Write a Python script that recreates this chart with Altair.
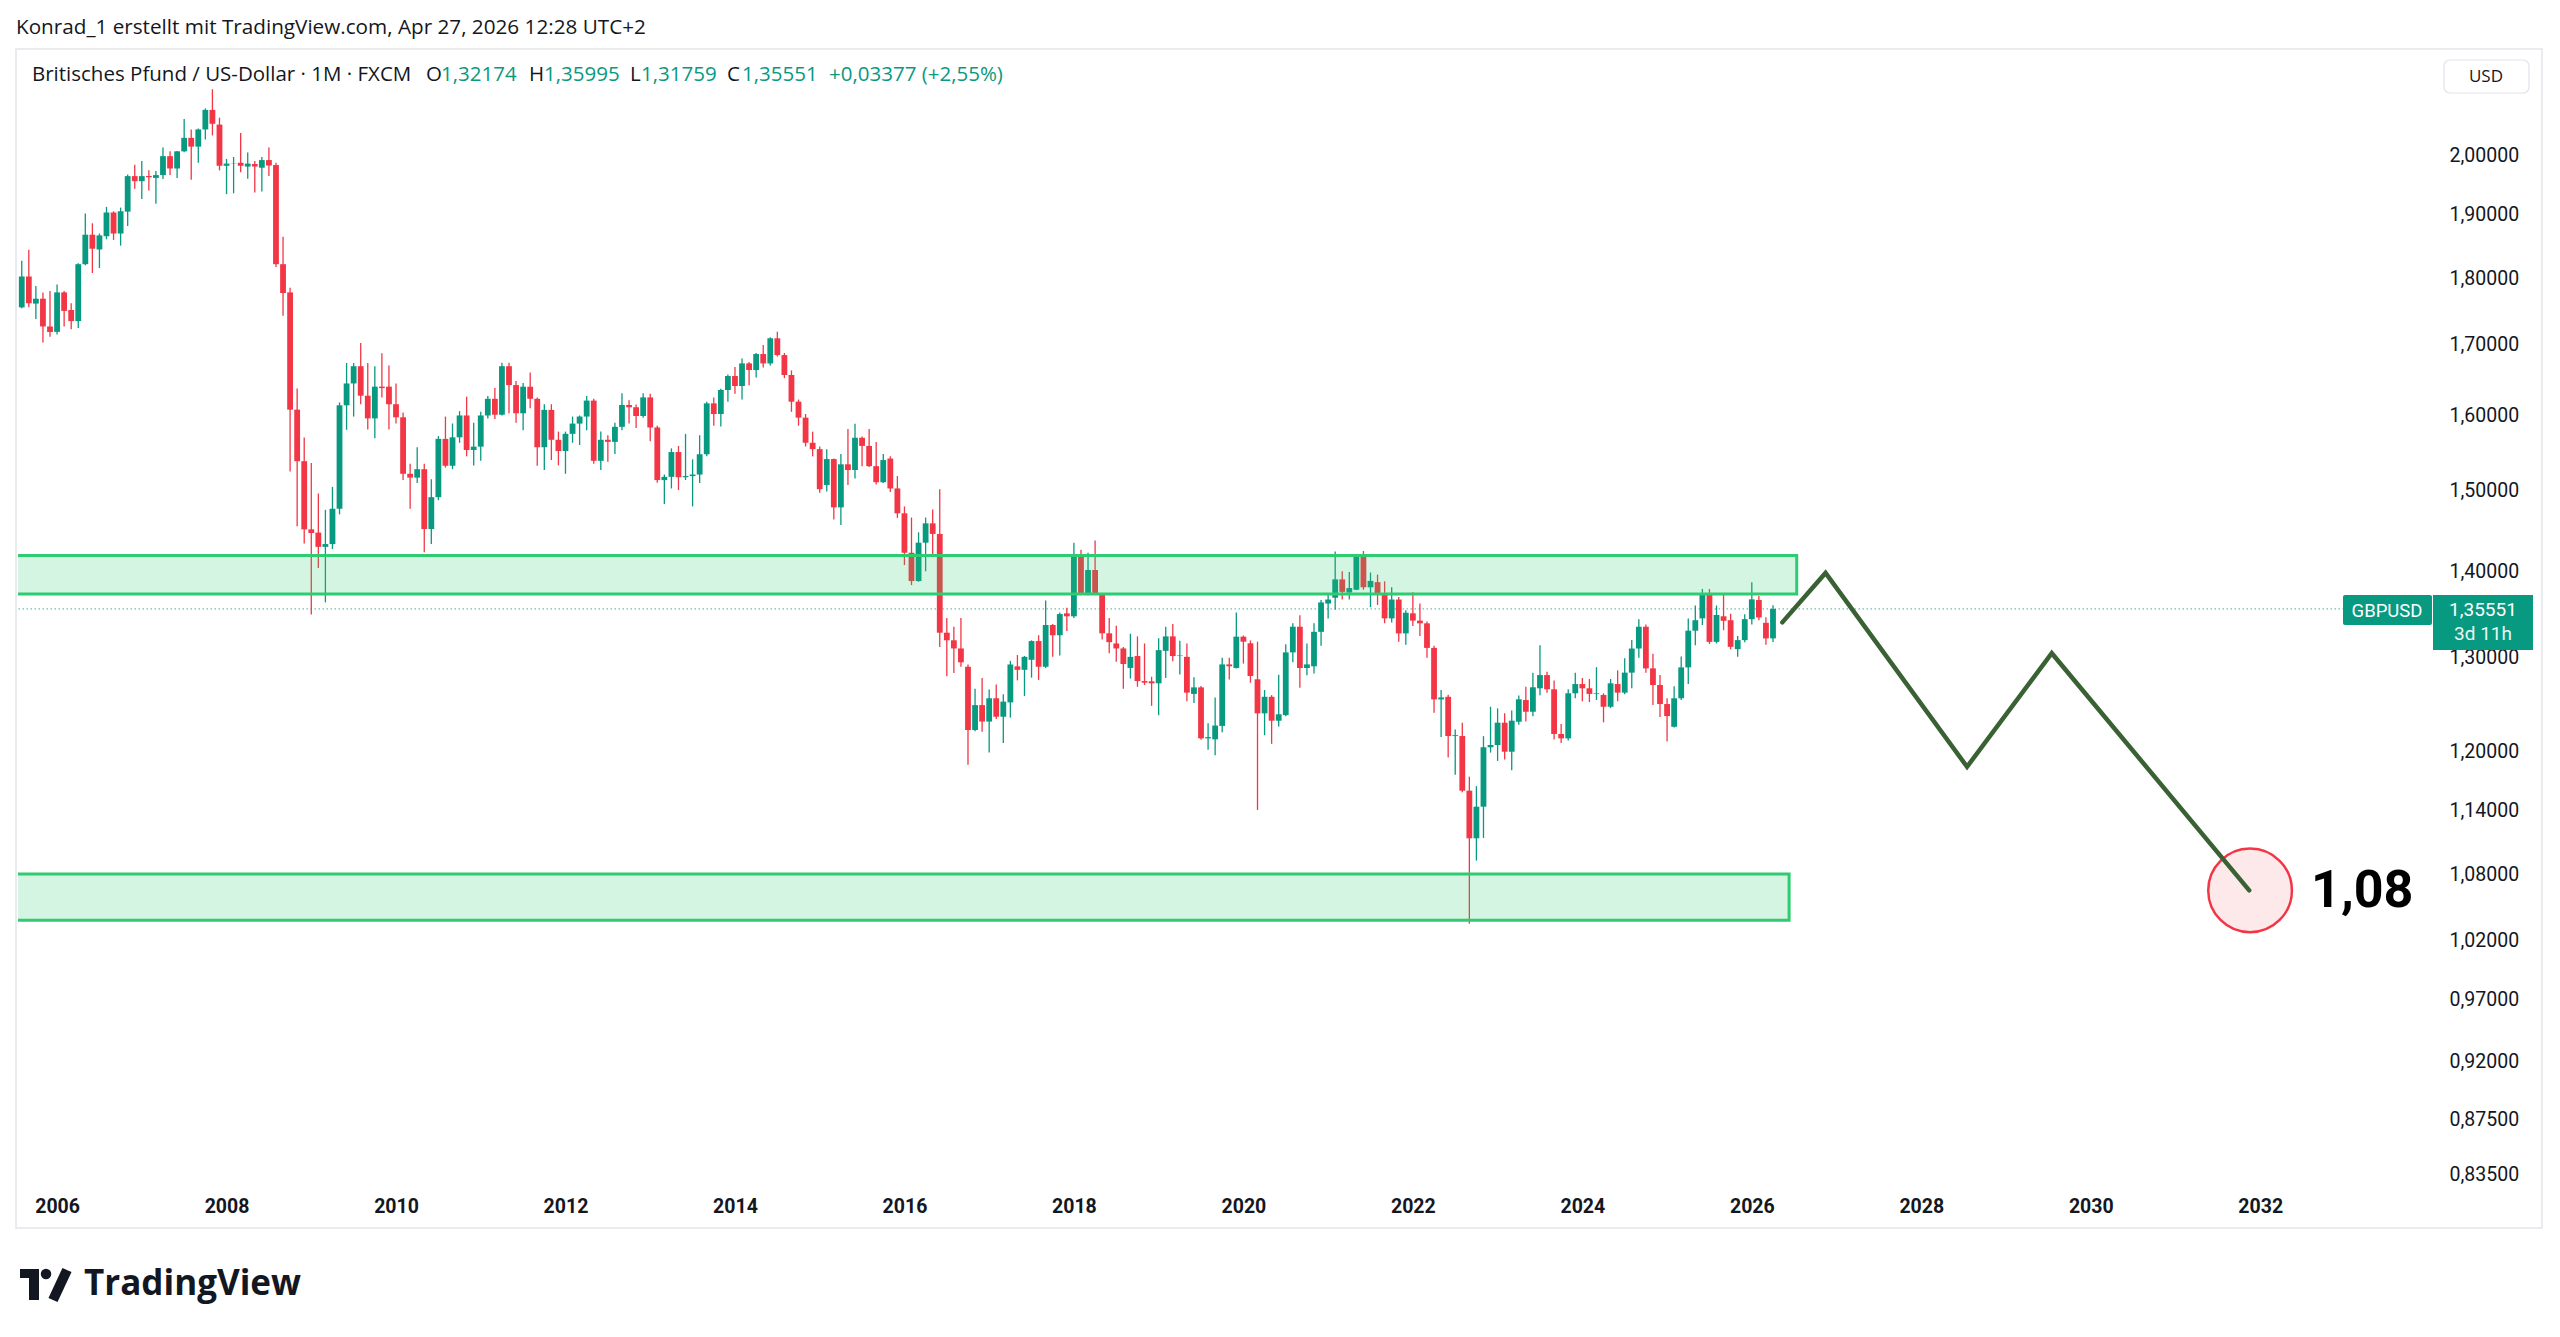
import altair as alt
import pandas as pd

GREEN = "#089981"
RED = "#f23645"
INK = "#131722"
FONT = "Roboto"
HFONT = "Open Sans"

# ---------------- data: GBPUSD monthly candles (FXCM), Aug 2005 - Apr 2026 ----------------
first_year = 2005
first_month = 8

opens = [
    1.7553, 1.8024, 1.7610, 1.7684, 1.7268,
    1.7188, 1.7780, 1.7514, 1.7348, 1.8215, 1.8681, 1.8446, 1.8657, 1.9040, 1.8700, 1.9054, 1.9643,
    1.9558, 1.9643, 1.9613, 1.9660, 1.9982, 1.9772, 2.0065, 2.0298, 2.0146, 2.0445, 2.0790, 2.0530,
    1.9818, 1.9855, 1.9869, 1.9805, 1.9849, 1.9785, 1.9915, 1.9830, 1.8215, 1.7780, 1.6080, 1.5385,
    1.4512, 1.4472, 1.4296, 1.4330, 1.4771, 1.6140, 1.6445, 1.6690, 1.6273, 1.5960, 1.6400, 1.6400,
    1.6155, 1.5975, 1.5220, 1.5170, 1.5280, 1.4516, 1.4918, 1.5682, 1.5325, 1.5703, 1.6000, 1.5533,
    1.5578, 1.6000, 1.6230, 1.6010, 1.6690, 1.6422, 1.6030, 1.6400, 1.6230, 1.5570, 1.6077, 1.5670,
    1.5520, 1.5750, 1.5889, 1.5985, 1.6205, 1.5390, 1.5670, 1.5642, 1.5845, 1.6144, 1.6113, 1.5993,
    1.6250, 1.5836, 1.5138, 1.5180, 1.5506, 1.5175, 1.5190, 1.5210, 1.5477, 1.6167, 1.6020, 1.6353,
    1.6550, 1.6409, 1.6730, 1.6636, 1.6865, 1.6730, 1.7094, 1.6850, 1.6565, 1.6190, 1.5970, 1.5630,
    1.5545, 1.5075, 1.5413, 1.4788, 1.5344, 1.5269, 1.5697, 1.5588, 1.5320, 1.5110, 1.5420, 1.5030,
    1.4713, 1.4224, 1.3883, 1.4347, 1.4587, 1.4455, 1.3282, 1.3196, 1.3104, 1.2900, 1.2219, 1.2483,
    1.2308, 1.2556, 1.2359, 1.2512, 1.2904, 1.2866, 1.2977, 1.3187, 1.2900, 1.3370, 1.3253, 1.3504,
    1.3470, 1.4175, 1.3737, 1.4015, 1.3737, 1.3275, 1.3160, 1.3104, 1.2887, 1.3019, 1.2743, 1.2740,
    1.2718, 1.3077, 1.3240, 1.3019, 1.3010, 1.2603, 1.2674, 1.2132, 1.2122, 1.2262, 1.2926, 1.2886,
    1.3237, 1.3162, 1.2762, 1.2395, 1.2572, 1.2317, 1.2376, 1.3060, 1.3350, 1.2886, 1.2905, 1.3292,
    1.3618, 1.3686, 1.3903, 1.3747, 1.3780, 1.4184, 1.3809, 1.3870, 1.3727, 1.3446, 1.3665, 1.3274,
    1.3504, 1.3420, 1.3389, 1.3110, 1.2544, 1.2572, 1.2156, 1.2156, 1.1600, 1.1136, 1.1442, 1.2040,
    1.2063, 1.2296, 1.1994, 1.2306, 1.2537, 1.2412, 1.2664, 1.2808, 1.2653, 1.2178, 1.2132, 1.2610,
    1.2710, 1.2664, 1.2603, 1.2592, 1.2465, 1.2710, 1.2617, 1.2835, 1.3103, 1.3350, 1.2882, 1.2700,
    1.2494, 1.2253, 1.2556, 1.2893, 1.3305, 1.3446, 1.3722, 1.3178, 1.3470, 1.3425, 1.3096, 1.3198,
    1.3437, 1.3659, 1.3395, 1.32174,
]

highs = [
    1.8270, 1.8440, 1.7877, 1.7780, 1.7801,
    1.7900, 1.7800, 1.7615, 1.8230, 1.9022, 1.8865, 1.8700, 1.9133, 1.9060, 1.9120, 1.9670, 1.9837,
    1.9900, 1.9740, 1.9730, 2.0130, 2.0065, 2.0070, 2.0630, 2.0445, 2.0460, 2.0817, 2.1161, 2.0652,
    1.9934, 1.9968, 2.0384, 2.0045, 1.9900, 1.9968, 2.0130, 1.9870, 1.8650, 1.7850, 1.6374, 1.5699,
    1.5360, 1.4966, 1.4757, 1.5050, 1.6180, 1.6735, 1.6735, 1.7026, 1.6735, 1.6690, 1.6875, 1.6700,
    1.6445, 1.6040, 1.5350, 1.5570, 1.5350, 1.5150, 1.5720, 1.5985, 1.5890, 1.6060, 1.6260, 1.5900,
    1.6050, 1.6270, 1.6380, 1.6740, 1.6740, 1.6480, 1.6450, 1.6600, 1.6250, 1.6155, 1.6155, 1.5780,
    1.5780, 1.5985, 1.6000, 1.6270, 1.6230, 1.5780, 1.5730, 1.5900, 1.6308, 1.6210, 1.6150, 1.6308,
    1.6300, 1.5860, 1.5210, 1.5555, 1.5588, 1.5750, 1.5410, 1.5730, 1.6190, 1.6250, 1.6370, 1.6570,
    1.6680, 1.6800, 1.6750, 1.6880, 1.6995, 1.7110, 1.7192, 1.6880, 1.6630, 1.6220, 1.6020, 1.5780,
    1.5580, 1.5545, 1.5420, 1.5480, 1.5815, 1.5886, 1.5715, 1.5815, 1.5640, 1.5480, 1.5450, 1.5190,
    1.4800, 1.4660, 1.4475, 1.4660, 1.4760, 1.5018, 1.3450, 1.3350, 1.3450, 1.2925, 1.2660, 1.2775,
    1.2650, 1.2705, 1.2600, 1.2965, 1.3030, 1.3020, 1.3196, 1.3253, 1.3655, 1.3380, 1.3515, 1.3570,
    1.4345, 1.4260, 1.4224, 1.4375, 1.3740, 1.3450, 1.3360, 1.3120, 1.3270, 1.3240, 1.3160, 1.2790,
    1.3218, 1.3350, 1.3380, 1.3190, 1.3160, 1.2785, 1.2690, 1.2290, 1.2565, 1.3000, 1.3000, 1.3515,
    1.3250, 1.3195, 1.3180, 1.2645, 1.2590, 1.2812, 1.3150, 1.3390, 1.3482, 1.3160, 1.3390, 1.3660,
    1.3728, 1.4240, 1.4000, 1.3990, 1.4210, 1.4245, 1.3985, 1.3960, 1.3880, 1.3809, 1.3695, 1.3540,
    1.3750, 1.3618, 1.3410, 1.3135, 1.2645, 1.2595, 1.2225, 1.2295, 1.1740, 1.1645, 1.2155, 1.2465,
    1.2448, 1.2395, 1.2425, 1.2585, 1.2680, 1.2835, 1.3140, 1.2845, 1.2750, 1.2283, 1.2653, 1.2835,
    1.2775, 1.2765, 1.2895, 1.2610, 1.2765, 1.2860, 1.2995, 1.3200, 1.3435, 1.3375, 1.3045, 1.2810,
    1.2556, 1.2685, 1.3015, 1.3445, 1.3595, 1.3790, 1.3788, 1.3595, 1.3726, 1.3500, 1.3245, 1.3495,
    1.3868, 1.3705, 1.3460, 1.35995,
]

lows = [
    1.7540, 1.7555, 1.7380, 1.7031, 1.7116,
    1.7150, 1.7268, 1.7227, 1.7245, 1.8200, 1.8078, 1.8155, 1.8608, 1.8597, 1.8507, 1.8822, 1.9430,
    1.9260, 1.9404, 1.9183, 1.9593, 1.9660, 1.9613, 2.0050, 1.9580, 1.9869, 2.0270, 2.0340, 1.9740,
    1.9342, 1.9356, 1.9708, 1.9600, 1.9368, 1.9386, 1.9643, 1.8173, 1.7427, 1.5249, 1.4550, 1.4336,
    1.3490, 1.4040, 1.3632, 1.4270, 1.4700, 1.5805, 1.5985, 1.6155, 1.5810, 1.5690, 1.6250, 1.5810,
    1.5890, 1.5140, 1.4771, 1.5100, 1.4230, 1.4330, 1.4880, 1.5300, 1.5280, 1.5630, 1.5450, 1.5330,
    1.5390, 1.5960, 1.5950, 1.6000, 1.6030, 1.5900, 1.5800, 1.6100, 1.5325, 1.5270, 1.5400, 1.5330,
    1.5220, 1.5630, 1.5600, 1.5800, 1.5350, 1.5270, 1.5377, 1.5480, 1.5800, 1.5890, 1.5830, 1.5970,
    1.5650, 1.5105, 1.4830, 1.5030, 1.5010, 1.5138, 1.4800, 1.5100, 1.5450, 1.5860, 1.5850, 1.6190,
    1.6300, 1.6220, 1.6420, 1.6530, 1.6670, 1.6700, 1.6830, 1.6520, 1.6050, 1.5860, 1.5580, 1.5450,
    1.4975, 1.4990, 1.4635, 1.4565, 1.5075, 1.5160, 1.5320, 1.5310, 1.5080, 1.5100, 1.4985, 1.4655,
    1.4075, 1.3835, 1.3875, 1.4000, 1.4200, 1.3120, 1.2795, 1.2830, 1.2900, 1.1860, 1.2205, 1.2200,
    1.1985, 1.2335, 1.2083, 1.2350, 1.2750, 1.2580, 1.2780, 1.2755, 1.2885, 1.3010, 1.3025, 1.3300,
    1.3450, 1.3730, 1.3715, 1.3725, 1.3205, 1.3050, 1.2955, 1.2660, 1.2770, 1.2680, 1.2700, 1.2475,
    1.2375, 1.2775, 1.2960, 1.2815, 1.2525, 1.2505, 1.2118, 1.2015, 1.1958, 1.2195, 1.2760, 1.2880,
    1.2935, 1.2725, 1.1410, 1.2165, 1.2075, 1.2255, 1.2365, 1.2950, 1.2670, 1.2805, 1.2825, 1.3135,
    1.3446, 1.3545, 1.3665, 1.3665, 1.3775, 1.3780, 1.3575, 1.3602, 1.3390, 1.3400, 1.3180, 1.3145,
    1.3358, 1.3245, 1.3000, 1.2400, 1.2145, 1.1935, 1.1760, 1.1585, 1.0350, 1.0925, 1.1140, 1.1985,
    1.1900, 1.1915, 1.1805, 1.2275, 1.2308, 1.2365, 1.2590, 1.2615, 1.2120, 1.2085, 1.2110, 1.2556,
    1.2525, 1.2515, 1.2537, 1.2300, 1.2450, 1.2525, 1.2600, 1.2665, 1.3000, 1.2835, 1.2485, 1.2355,
    1.2100, 1.2245, 1.2537, 1.2710, 1.3140, 1.3370, 1.3155, 1.3160, 1.3310, 1.3093, 1.3010, 1.3175,
    1.3375, 1.3425, 1.3145, 1.31759,
]

closes = [
    1.8024, 1.7615, 1.7684, 1.7268, 1.7188,
    1.7780, 1.7500, 1.7348, 1.8215, 1.8681, 1.8458, 1.8670, 1.9040, 1.8700, 1.9060, 1.9643, 1.9558,
    1.9643, 1.9625, 1.9660, 1.9982, 1.9772, 2.0065, 2.0298, 2.0146, 2.0445, 2.0790, 2.0544, 1.9818,
    1.9855, 1.9860, 1.9818, 1.9855, 1.9805, 1.9915, 1.9823, 1.8215, 1.7770, 1.6080, 1.5385, 1.4512,
    1.4467, 1.4296, 1.4330, 1.4771, 1.6140, 1.6445, 1.6690, 1.6273, 1.5960, 1.6400, 1.6380, 1.6155,
    1.5975, 1.5220, 1.5170, 1.5280, 1.4516, 1.4918, 1.5682, 1.5325, 1.5703, 1.6000, 1.5533, 1.5578,
    1.6000, 1.6230, 1.6010, 1.6690, 1.6422, 1.6030, 1.6400, 1.6230, 1.5570, 1.6077, 1.5670, 1.5520,
    1.5750, 1.5889, 1.5985, 1.6205, 1.5390, 1.5670, 1.5642, 1.5845, 1.6144, 1.6113, 1.5993, 1.6250,
    1.5836, 1.5138, 1.5180, 1.5506, 1.5175, 1.5190, 1.5210, 1.5477, 1.6167, 1.6020, 1.6353, 1.6550,
    1.6409, 1.6730, 1.6636, 1.6865, 1.6730, 1.7094, 1.6850, 1.6565, 1.6190, 1.5970, 1.5630, 1.5545,
    1.5020, 1.5413, 1.4788, 1.5344, 1.5269, 1.5697, 1.5588, 1.5320, 1.5110, 1.5400, 1.5030, 1.4713,
    1.4224, 1.3883, 1.4347, 1.4587, 1.4455, 1.3282, 1.3196, 1.3104, 1.2949, 1.2219, 1.2483, 1.2308,
    1.2556, 1.2359, 1.2520, 1.2925, 1.2866, 1.3010, 1.3187, 1.2900, 1.3370, 1.3253, 1.3496, 1.3470,
    1.4175, 1.3737, 1.4015, 1.3737, 1.3275, 1.3175, 1.3104, 1.2930, 1.3010, 1.2743, 1.2725, 1.2718,
    1.3085, 1.3240, 1.3019, 1.3025, 1.2617, 1.2674, 1.2132, 1.2145, 1.2266, 1.2926, 1.2905, 1.3237,
    1.3180, 1.2798, 1.2395, 1.2572, 1.2317, 1.2385, 1.3060, 1.3350, 1.2886, 1.2926, 1.3292, 1.3631,
    1.3665, 1.3903, 1.3755, 1.3800, 1.4184, 1.3809, 1.3885, 1.3722, 1.3446, 1.3665, 1.3274, 1.3511,
    1.3420, 1.3389, 1.3110, 1.2544, 1.2565, 1.2156, 1.2165, 1.1600, 1.1136, 1.1442, 1.2040, 1.2063,
    1.2296, 1.1994, 1.2317, 1.2545, 1.2412, 1.2675, 1.2808, 1.2653, 1.2178, 1.2132, 1.2610, 1.2710,
    1.2664, 1.2603, 1.2610, 1.2465, 1.2718, 1.2617, 1.2835, 1.3103, 1.3350, 1.2882, 1.2700, 1.2494,
    1.2366, 1.2556, 1.2893, 1.3305, 1.3425, 1.3722, 1.3178, 1.3485, 1.3418, 1.3122, 1.3198, 1.3437,
    1.3667, 1.3457, 1.3217, 1.35551,
]

# support / resistance zones (time in decimal years, prices)
zone_start = [2004.0, 2004.0]
zone_end = [2026.53, 2026.44]
zone_low = [1.373, 1.038]
zone_high = [1.419, 1.080]

# projected path drawn by the author
proj_time = [2026.36, 2026.87, 2028.54, 2029.54, 2031.87]
proj_price = [1.340, 1.398, 1.184, 1.305, 1.065]

target_time = [2031.88]
target_price = [1.065]
target_label = ["1,08"]
target_label_time = [2032.60]

last_price = [1.35551]

year_ticks = list(range(2006, 2033, 2))
price_ticks = [0.835, 0.875, 0.92, 0.97, 1.02, 1.08, 1.14, 1.2, 1.3, 1.4, 1.5, 1.6, 1.7, 1.8, 1.9, 2.0]

# ---------------- frames ----------------
n = min(len(opens), len(highs), len(lows), len(closes))
candles = pd.DataFrame({
    "t": [first_year + (first_month - 1 + i) / 12.0 for i in range(n)],
    "open": opens[:n], "high": highs[:n], "low": lows[:n], "close": closes[:n],
})
candles["col"] = [GREEN if c >= o else RED for o, c in zip(candles["open"], candles["close"])]

zones = pd.DataFrame({"t0": zone_start, "t1": zone_end, "lo": zone_low, "hi": zone_high})
proj = pd.DataFrame({"t": proj_time, "p": proj_price, "i": list(range(len(proj_time)))})
target = pd.DataFrame({"t": target_time, "p": target_price})
target_txt = pd.DataFrame({"t": target_label_time, "p": target_price, "lab": target_label})
lastp = pd.DataFrame({"p": last_price})
one = pd.DataFrame({"k": [0]})

# ---------------- layout ----------------
W, H = 2414, 1143
PAD_L, PAD_T = 18, 49

xs = alt.Scale(domain=[2005.598, 2033.968], nice=False, zero=False)
ys = alt.Scale(type="log", domain=[0.8224, 2.1904], nice=False, zero=False)

x_axis = alt.Axis(values=year_ticks, format="d", title=None, grid=False, ticks=False, domain=False,
                  labelFont=FONT, labelFontSize=19.5, labelFontWeight="bold", labelColor=INK,
                  labelPadding=5, labelFlush=False, labelOverlap=False)
y_axis = alt.Axis(orient="right", values=price_ticks,
                  labelExpr="replace(format(datum.value, '.5f'), '.', ',')",
                  title=None, grid=False, ticks=False, domain=False,
                  labelFont=FONT, labelFontSize=19.5, labelColor=INK, labelPadding=17,
                  labelAlign="left", labelOverlap=False, labelFlush=False)


def X(f):
    return alt.X(f, scale=xs, axis=x_axis)


def Y(f):
    return alt.Y(f, scale=ys, axis=y_axis)


def ptext(txt, x, y, size=19, color=INK, weight="normal", align="left", baseline="middle", font=HFONT):
    return alt.Chart(one).mark_text(text=txt, fontSize=size, font=font, color=color, fontWeight=weight,
                                    align=align, baseline=baseline).encode(
        x=alt.value(x - PAD_L), y=alt.value(y - PAD_T))


def prect(x0, y0, x1, y1, **kw):
    return alt.Chart(one).mark_rect(**kw).encode(
        x=alt.value(x0 - PAD_L), x2=alt.value(x1 - PAD_L),
        y=alt.value(y0 - PAD_T), y2=alt.value(y1 - PAD_T))


frame = prect(16, 49, 2542, 1228, fill="white", fillOpacity=0, stroke="#e3e5ea", strokeWidth=1.5)

wicks = alt.Chart(candles).mark_rule(strokeWidth=1.3, clip=True).encode(
    x=X("t:Q"), y=Y("low:Q"), y2="high:Q", color=alt.Color("col:N", scale=None))
bodies = alt.Chart(candles).mark_bar(size=5.8, clip=True).encode(
    x=X("t:Q"), y=Y("open:Q"), y2="close:Q", color=alt.Color("col:N", scale=None))

zone_layer = alt.Chart(zones).mark_rect(fill="#2ecc71", fillOpacity=0.2, stroke="#2ecc71",
                                         strokeWidth=3, clip=True).encode(
    x=X("t0:Q"), x2="t1:Q", y=Y("lo:Q"), y2="hi:Q")

price_line = alt.Chart(lastp).mark_rule(color=GREEN, strokeDash=[1.5, 2.5], strokeWidth=1.2, opacity=0.6).encode(
    y=Y("p:Q"))

path = alt.Chart(proj).mark_line(color="#3a6134", strokeWidth=4.5, strokeCap="round", strokeJoin="miter",
                                 clip=True).encode(x=X("t:Q"), y=Y("p:Q"), order="i:O")

circle = alt.Chart(target).mark_point(shape="circle", size=7000, fill="#fde8ea", fillOpacity=1,
                                      stroke="#f23645", strokeWidth=2.5, opacity=1).encode(
    x=X("t:Q"), y=Y("p:Q"))

target_text = alt.Chart(target_txt).mark_text(align="left", baseline="middle", fontSize=52, fontWeight="bold",
                                              font=FONT, color="#000000", dy=1).encode(
    x=X("t:Q"), y=Y("p:Q"), text="lab:N")

# last price labels on the right
gb_box = alt.Chart(lastp).mark_rect(color=GREEN, yOffset=-14, y2Offset=16, cornerRadius=2).encode(
    x=alt.value(2343 - PAD_L), x2=alt.value(2432 - PAD_L), y=Y("p:Q"), y2="p:Q")
val_box = alt.Chart(lastp).mark_rect(color=GREEN, yOffset=-14, y2Offset=41).encode(
    x=alt.value(2433 - PAD_L), x2=alt.value(2533 - PAD_L), y=Y("p:Q"), y2="p:Q")
gb_txt = alt.Chart(lastp).mark_text(text="GBPUSD", color="white", fontSize=18.5, font=FONT, align="center",
                                    baseline="middle", dy=2).encode(x=alt.value(2387 - PAD_L), y=Y("p:Q"))
val_txt = alt.Chart(lastp).mark_text(text="1,35551", color="white", fontSize=19, font=FONT, align="center",
                                     baseline="middle", dy=1).encode(x=alt.value(2483 - PAD_L), y=Y("p:Q"))
cd_txt = alt.Chart(lastp).mark_text(text="3d 11h", color="#e6f7f3", fontSize=19, font=FONT, align="center",
                                    baseline="middle", dy=25).encode(x=alt.value(2483 - PAD_L), y=Y("p:Q"))

# header texts
title = ptext("Konrad_1 erstellt mit TradingView.com, Apr 27, 2026 12:28 UTC+2", 16, 28, size=20.7)
LS = 20.5
leg = [
    ptext("Britisches Pfund / US-Dollar · 1M · FXCM", 32, 75, size=LS),
    ptext("O", 426, 75, size=LS),
    ptext("1,32174", 441, 75, size=LS, color=GREEN),
    ptext("H", 529, 75, size=LS),
    ptext("1,35995", 544, 75, size=LS, color=GREEN),
    ptext("L", 630, 75, size=LS),
    ptext("1,31759", 641, 75, size=LS, color=GREEN),
    ptext("C", 727, 75, size=LS),
    ptext("1,35551", 742, 75, size=LS, color=GREEN),
    ptext("+0,03377 (+2,55%)", 829, 75, size=LS, color=GREEN),
]
usd_box = prect(2444, 60, 2529, 93, fill="white", stroke="#e0e3eb", strokeWidth=1.2, cornerRadius=6)
usd_txt = ptext("USD", 2486, 77, size=17, align="center")

# TradingView logo
logo = [
    prect(20, 1269, 39, 1278, fill=INK),
    prect(29, 1269, 39, 1300, fill=INK),
    alt.Chart(one).mark_point(shape="circle", size=110, filled=True, color=INK, opacity=1).encode(
        x=alt.value(46 - PAD_L), y=alt.value(1274 - PAD_T)),
    alt.Chart(one).mark_rule(color=INK, strokeWidth=10).encode(
        x=alt.value(67 - PAD_L), y=alt.value(1270 - PAD_T), x2=alt.value(53 - PAD_L), y2=alt.value(1300 - PAD_T)),
    ptext("TradingView", 84, 1284, size=35, weight="bold"),
]

chart = alt.layer(
    frame, price_line, wicks, bodies, zone_layer, circle, path, target_text,
    gb_box, val_box, gb_txt, val_txt, cd_txt,
    title, *leg, usd_box, usd_txt, *logo,
).properties(
    width=W, height=H,
    padding={"left": PAD_L, "top": PAD_T, "right": 2560 - PAD_L - W, "bottom": 1337 - PAD_T - H},
    autosize=alt.AutoSizeParams(type="none"),
    background="white",
).configure_view(stroke=None)

chart.save("out.html", embed_options={"renderer": "svg", "actions": False})
